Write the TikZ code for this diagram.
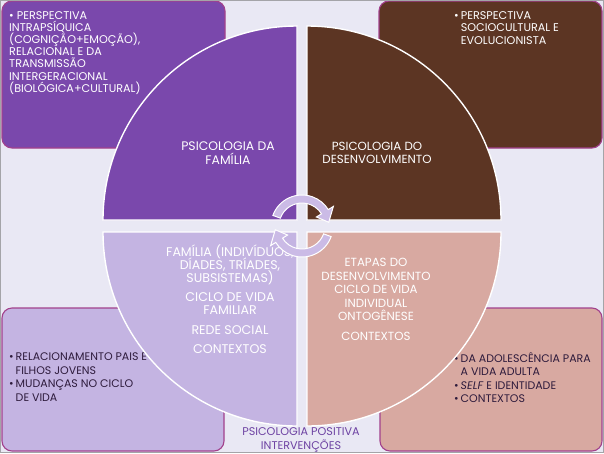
\documentclass[tikz,border=0pt]{standalone}
\usepackage{fontspec}
\setmainfont{Poppins}
\definecolor{fundo}{HTML}{E9E8F4}
\definecolor{moldura}{HTML}{A4A4A8}
\definecolor{borda}{HTML}{A2418C}
\definecolor{familiacor}{HTML}{7A48AC}
\definecolor{desenvcor}{HTML}{5C3523}
\definecolor{relcor}{HTML}{C4B4E2}
\definecolor{adolcor}{HTML}{D8A9A1}
\definecolor{setacor}{HTML}{CBBBE6}
\definecolor{escuro}{HTML}{2E1B3C}
\definecolor{positivacor}{HTML}{6E43A3}
\newcommand{\junto}{\setlength{\lineskiplimit}{-10pt}}
\begin{document}
\begin{tikzpicture}[x=1pt,y=-1pt,
  caixa/.style={rounded corners=10pt, draw=borda, line width=1.1pt},
  quadrante/.style={draw=white, line width=1.4pt},
  seta/.style={fill=setacor, draw=white, line width=1pt},
  rotulo/.style={text=white, align=center, inner sep=0pt, font=\fontsize{11.8}{13}\selectfont\junto},
  topico/.style={align=left, inner sep=0pt, font=\fontsize{11.2}{12.2}\selectfont\junto},
  item/.style={align=left, inner sep=0pt, text=escuro, font=\fontsize{11}{13.5}\selectfont}]
  \useasboundingbox (0,0) rectangle (604,453);
  \pgfmathsetmacro{\r}{194}

  % Background.
  \fill[fundo] (0,0) rectangle (604,453);

  % Boxes behind the circle
  \filldraw[caixa, fill=familiacor] (2,1) rectangle (225,148);
  \filldraw[caixa, fill=desenvcor] (379,1) rectangle (602,148);
  \filldraw[caixa, fill=relcor] (2,308) rectangle (224,451);
  \filldraw[caixa, fill=adolcor] (380,308) rectangle (602,451);

  \node[topico, text=white, anchor=north west] (intrapsiquica) at (9,11)
    {\textbullet\ PERSPECTIVA\\INTRAPSÍQUICA\\(COGNIÇÃO+EMOÇÃO),\\RELACIONAL E DA\\TRANSMISSÃO\\INTERGERACIONAL\\(BIOLÓGICA+CULTURAL)};
  \node[topico, text=white, anchor=north west] (sociocultural) at (454,11)
    {\begin{tabular}{@{}l@{\hspace{2pt}}l@{}}\textbullet & PERSPECTIVA\\ & SOCIOCULTURAL E\\ & EVOLUCIONISTA\end{tabular}};
  \node[item, anchor=north west] (relacionamento) at (9,351)
    {\begin{tabular}{@{}l@{\hspace{2pt}}l@{}}\textbullet & RELACIONAMENTO PAIS E\\ & FILHOS JOVENS\\ \textbullet & MUDANÇAS NO CICLO\\ & DE VIDA\end{tabular}};
  \node[item, anchor=north west] (adolescencia) at (454,352)
    {\begin{tabular}{@{}l@{\hspace{2pt}}l@{}}\textbullet & DA ADOLESCÊNCIA PARA\\ & A VIDA ADULTA\\ \textbullet & \textit{SELF} E IDENTIDADE\\ \textbullet & CONTEXTOS\end{tabular}};

  % Four quarters of the circle
  \foreach \cx/\cy/\a/\cor in {297/220/180/familiacor, 307/220/270/desenvcor, 307/232/0/adolcor, 297/232/90/relcor}
  \filldraw[quadrante, fill=\cor] (\cx,\cy) -- ++(\a:\r) arc[start angle=\a, end angle=\a+90, radius=\r] -- cycle;

  \node[rotulo, font=\fontsize{12.4}{13.5}\selectfont\junto, anchor=north] (familia) at (228,142) {PSICOLOGIA DA\\FAMÍLIA};
  \node[rotulo, anchor=north] (desenvolvimento) at (377,142) {PSICOLOGIA DO\\DESENVOLVIMENTO};
  \node[rotulo, font=\fontsize{12.6}{13}\selectfont\junto, anchor=north] (sistemas) at (230,245)
    {FAMÍLIA (INDIVÍDUOS,\\DÍADES, TRÍADES,\\SUBSISTEMAS)\\[6pt]CICLO DE VIDA\\FAMILIAR\\[7pt]REDE SOCIAL\\[6pt]CONTEXTOS};
  \node[rotulo, font=\fontsize{11.8}{13.5}\selectfont\junto, anchor=north] (etapas) at (376,258)
    {ETAPAS DO\\DESENVOLVIMENTO\\CICLO DE VIDA\\INDIVIDUAL\\ONTOGÊNESE\\[6pt]CONTEXTOS};

  % Turning arrows in the middle
  \begin{scope}[shift={(302,226)}]
    \foreach \rot in {0,180}
    \filldraw[seta] (200+\rot:31) arc[start angle=200+\rot, end angle=328+\rot, radius=31]
      -- (328+\rot:37) -- (352+\rot:27) -- (328+\rot:17) -- (328+\rot:23)
      arc[start angle=328+\rot, end angle=200+\rot, radius=23] -- cycle;
  \end{scope}

  \node[rotulo, text=positivacor, font=\fontsize{11.2}{14}\selectfont\junto, anchor=north] (positiva) at (301,427)
    {PSICOLOGIA POSITIVA\\INTERVENÇÕES};

  % Frame
  \draw[moldura, line width=1pt] (0.5,0.5) rectangle (603.5,452.5);
\end{tikzpicture}
\end{document}
